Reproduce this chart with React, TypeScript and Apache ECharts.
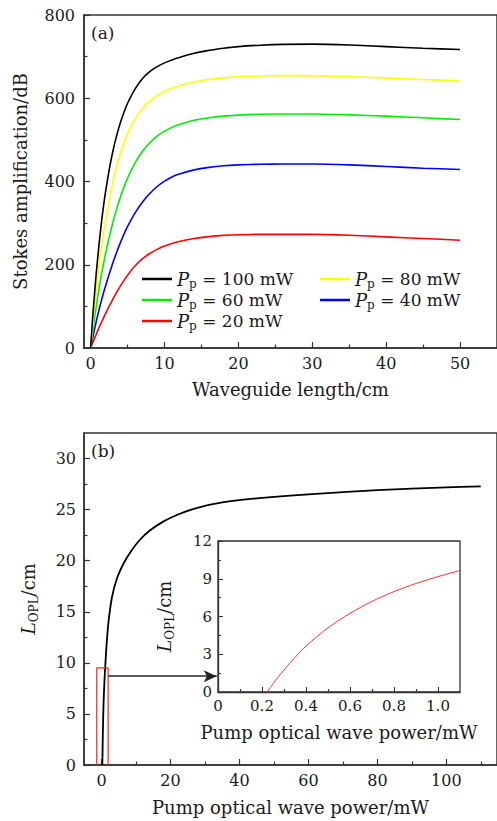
import React, { useEffect, useRef } from "react";
import * as echarts from "echarts";

// ---- Panel (a): Stokes amplification vs waveguide length ----
const lengthCm = [0, 0.25, 0.5, 0.75, 1, 1.25, 1.5, 1.75, 2, 2.5, 3, 3.5, 4, 4.5, 5, 6, 7, 8, 9, 10, 11, 12, 14, 16, 18, 20, 23, 26, 30, 35, 40, 45, 50];
const gain100 = [0, 68, 125, 178, 225, 268, 307, 342, 373, 427, 472, 509, 540, 566, 588, 622, 647, 664, 676, 685, 692, 698, 708, 715, 720, 724, 727.5, 729.5, 730, 728, 724, 720, 717];
const gain80 = [0, 50, 96, 138, 177, 213, 246, 276, 304, 353, 396, 433, 465, 492, 515, 550, 575, 593, 606, 616, 624, 630, 639, 645, 649, 651.5, 653.5, 654.5, 654, 652, 649, 645, 642];
const gain60 = [0, 35, 68, 99, 128, 155, 180, 203, 225, 265, 301, 333, 361, 386, 408, 444, 472, 493, 509, 521, 530, 537, 547, 553, 557, 559.5, 561.5, 562, 562, 560, 557, 553, 549];
const gain40 = [0, 22, 43, 63, 82, 100, 117, 133, 148, 177, 204, 229, 252, 273, 292, 324, 350, 371, 388, 401, 411, 418, 428, 434, 438, 440, 441.5, 442, 442, 440, 436, 432, 429];
const gain20 = [0, 11, 22, 32.5, 43, 53, 63, 72.5, 82, 100, 117, 133, 148, 162, 175, 197, 214, 227, 237, 245, 251, 256, 263, 267.5, 270.5, 272, 273, 273, 273, 271, 267, 263, 259];
const pumpLabels = ["100", "80", "60", "40", "20"];
const aXTicks = [0, 10, 20, 30, 40, 50];
const aXMinor = [5, 15, 25, 35, 45];

// ---- Panel (b): L_OPL vs pump power ----
const pumpMain = [0.225, 0.3, 0.4, 0.5, 0.6, 0.8, 1.1, 1.5, 2, 3, 4.5, 6.5, 8.5, 11, 14, 18, 22, 27.5, 35, 45, 60, 80, 100, 110];
const loplMain = [0, 1.75, 3.65, 5.1, 6.25, 7.98, 9.9, 12.0, 14.0, 16.4, 18.3, 19.8, 20.9, 22.0, 22.95, 23.85, 24.5, 25.15, 25.7, 26.1, 26.5, 26.9, 27.18, 27.28];
const bXTicks = [0, 20, 40, 60, 80, 100];
const bXMinor = [10, 30, 50, 70, 90, 110];
const bYTicks = [0, 5, 10, 15, 20, 25, 30];
const bYMinor = [2.5, 7.5, 12.5, 17.5, 22.5, 27.5];
const zoomBoxX = [-1.4, 1.9];
const zoomBoxTop = 9.5;
const arrowFrom = [1.9, 8.7];
const arrowTo = [33.4, 8.7];

// ---- Inset ----
const insetPump = [0.225, 0.25, 0.3, 0.35, 0.4, 0.5, 0.6, 0.7, 0.8, 0.9, 1.0, 1.1];
const insetL = [0, 0.65, 1.75, 2.75, 3.65, 5.1, 6.25, 7.2, 7.98, 8.62, 9.17, 9.66];
const insetXTicks = [0, 0.2, 0.4, 0.6, 0.8, 1.0];
const insetXMinor = [0.1, 0.3, 0.5, 0.7, 0.9];

const FONT = "DejaVu Serif";
const TXT = "#1a1a1a";
const AX = "#333333";

const zip = (xs: number[], ys: number[]) => xs.map((x, i) => [x, ys[i]]);

export default function App() {
  const ref = useRef<HTMLDivElement>(null);
  useEffect(() => {
    if (!ref.current) return;
    const chart = echarts.init(ref.current, null, { renderer: "svg" });

    const tickLabel = (size: number, margin: number) => ({
      fontFamily: FONT,
      fontSize: size,
      color: TXT,
      margin,
    });
    const nameStyle = { fontFamily: FONT, fontSize: 18, color: TXT };
    const axisLine = { show: true, onZero: false, lineStyle: { color: AX, width: 1.5 } };
    const hiddenLine = { show: false, onZero: false };

    const majorX = (gridIndex: number, min: number, max: number, ticks: number[], extra: any = {}) => ({
      type: "value",
      gridIndex,
      position: "bottom",
      min,
      max,
      axisLine,
      splitLine: { show: false },
      axisTick: { inside: true, length: 6, customValues: ticks, lineStyle: { color: AX, width: 1.2 } },
      axisLabel: { ...tickLabel(16, 7), customValues: ticks },
      ...extra,
    });
    const minorX = (gridIndex: number, min: number, max: number, ticks: number[], len = 3.5) => ({
      type: "value",
      gridIndex,
      position: "bottom",
      min,
      max,
      axisLine: hiddenLine,
      splitLine: { show: false },
      axisTick: { inside: true, length: len, customValues: ticks, lineStyle: { color: AX, width: 1.2 } },
      axisLabel: { show: false },
    });

    const lineSeries = (name: string, data: number[], color: string) => ({
      type: "line",
      name,
      xAxisIndex: 0,
      yAxisIndex: 0,
      data: zip(lengthCm, data),
      showSymbol: false,
      symbol: "none",
      smooth: 0.25,
      lineStyle: { color, width: 1.6 },
      itemStyle: { color },
      z: 3,
    });

    const legendFmt = (name: string) => `{i|P}{s|p}{n| = ${name} mW}`;
    const legendRich = {
      i: { fontFamily: FONT, fontStyle: "italic", fontSize: 18, lineHeight: 22, color: TXT },
      s: { fontFamily: FONT, fontSize: 12, lineHeight: 12, verticalAlign: "bottom", color: TXT },
      n: { fontFamily: FONT, fontSize: 17, lineHeight: 22, color: TXT },
    };
    const legendBase = {
      orient: "vertical",
      top: 270,
      padding: 0,
      itemGap: 1,
      itemWidth: 30,
      itemHeight: 2.5,
      icon: "rect",
      formatter: legendFmt,
      textStyle: { rich: legendRich, fontFamily: FONT, fontSize: 17 },
      selectedMode: false,
    };

    const lRich = {
      i: { fontFamily: FONT, fontStyle: "italic", fontSize: 19, lineHeight: 24, color: TXT },
      s: { fontFamily: FONT, fontSize: 12, lineHeight: 12, verticalAlign: "bottom", color: TXT },
      n: { fontFamily: FONT, fontSize: 18, lineHeight: 24, color: TXT },
    };

    const option: any = {
      animation: false,
      backgroundColor: "#ffffff",
      grid: [
        { left: 84, top: 15, width: 415, height: 333, show: true, borderColor: AX, borderWidth: 1.5 },
        { left: 84, top: 433, width: 416, height: 332, show: true, borderColor: AX, borderWidth: 1.5 },
        { left: 218, top: 541, width: 242, height: 151, show: true, borderColor: AX, borderWidth: 1.3, backgroundColor: "#ffffff", z: 5 },
      ],
      legend: [
        { ...legendBase, left: 142, data: [pumpLabels[0], pumpLabels[2], pumpLabels[4]] },
        { ...legendBase, left: 320, data: [pumpLabels[1], pumpLabels[3]] },
      ],
      xAxis: [
        majorX(0, -0.9, 55, aXTicks, {
          name: "Waveguide length/cm",
          nameLocation: "middle",
          nameGap: 32,
          nameTextStyle: nameStyle,
        }),
        minorX(0, -0.9, 55, aXMinor),
        majorX(1, -5.1, 114.7, bXTicks, {
          name: "Pump optical wave power/mW",
          nameLocation: "middle",
          nameGap: 33,
          nameTextStyle: nameStyle,
        }),
        minorX(1, -5.1, 114.7, bXMinor),
        {
          type: "value",
          gridIndex: 2,
          position: "bottom",
          min: 0,
          max: 1.1,
          axisLine: { ...axisLine, lineStyle: { color: AX, width: 1.3 } },
          splitLine: { show: false },
          axisTick: { inside: true, length: 5, customValues: insetXTicks, lineStyle: { color: AX, width: 1.1 } },
          axisLabel: {
            ...tickLabel(15, 6),
            customValues: insetXTicks,
            formatter: (v: number) => (v === 0 ? "0" : v.toFixed(1)),
          },
          name: "Pump optical wave power/mW",
          nameLocation: "middle",
          nameGap: 31,
          nameTextStyle: nameStyle,
          z: 6,
        },
        { ...minorX(2, 0, 1.1, insetXMinor, 3), z: 6 },
      ],
      yAxis: [
        {
          type: "value",
          gridIndex: 0,
          position: "left",
          min: 0,
          max: 800,
          interval: 200,
          axisLine,
          splitLine: { show: false },
          axisTick: { inside: true, length: 6, lineStyle: { color: AX, width: 1.2 } },
          minorTick: { show: true, splitNumber: 2, length: 3.5, lineStyle: { color: AX, width: 1.2 } },
          axisLabel: tickLabel(16, 9),
          name: "Stokes amplification/dB",
          nameLocation: "middle",
          nameGap: 55,
          nameTextStyle: nameStyle,
        },
        {
          type: "value",
          gridIndex: 1,
          position: "left",
          min: 0,
          max: 32.5,
          axisLine,
          splitLine: { show: false },
          axisTick: { inside: true, length: 6, customValues: bYTicks, lineStyle: { color: AX, width: 1.2 } },
          axisLabel: { ...tickLabel(16, 8), customValues: bYTicks },
          name: "{i|L}{s|OPL}{n|/cm}",
          nameLocation: "middle",
          nameGap: 44,
          nameTextStyle: { ...nameStyle, rich: lRich },
        },
        {
          type: "value",
          gridIndex: 1,
          position: "left",
          min: 0,
          max: 32.5,
          axisLine: hiddenLine,
          splitLine: { show: false },
          axisTick: { inside: true, length: 3.5, customValues: bYMinor, lineStyle: { color: AX, width: 1.2 } },
          axisLabel: { show: false },
        },
        {
          type: "value",
          gridIndex: 2,
          position: "left",
          min: 0,
          max: 12,
          interval: 3,
          axisLine: { ...axisLine, lineStyle: { color: AX, width: 1.3 } },
          splitLine: { show: false },
          axisTick: { inside: true, length: 5, lineStyle: { color: AX, width: 1.1 } },
          minorTick: { show: true, splitNumber: 2, length: 3, lineStyle: { color: AX, width: 1.1 } },
          axisLabel: tickLabel(15, 6),
          name: "{i|L}{s|OPL}{n|/cm}",
          nameLocation: "middle",
          nameGap: 42,
          nameTextStyle: { ...nameStyle, rich: lRich },
          z: 6,
        },
      ],
      series: [
        lineSeries(pumpLabels[4], gain20, "#ff0000"),
        lineSeries(pumpLabels[3], gain40, "#0000ff"),
        lineSeries(pumpLabels[2], gain60, "#00ee00"),
        lineSeries(pumpLabels[1], gain80, "#ffff00"),
        lineSeries(pumpLabels[0], gain100, "#000000"),
        {
          type: "line",
          name: "main",
          xAxisIndex: 2,
          yAxisIndex: 1,
          data: zip(pumpMain, loplMain),
          symbol: "none",
          smooth: 0.3,
          lineStyle: { color: "#000000", width: 1.8 },
          z: 3,
        },
        {
          type: "line",
          name: "box",
          xAxisIndex: 2,
          yAxisIndex: 1,
          data: [
            [zoomBoxX[0], 0],
            [zoomBoxX[0], zoomBoxTop],
            [zoomBoxX[1], zoomBoxTop],
            [zoomBoxX[1], 0],
          ],
          symbol: "none",
          lineStyle: { color: "#ff2020", width: 1.2 },
          z: 4,
          markLine: {
            silent: true,
            symbol: ["none", "arrow"],
            symbolSize: [9, 13],
            label: { show: false },
            lineStyle: { color: "#222222", width: 1.5, type: "solid" },
            data: [[{ coord: arrowFrom }, { coord: arrowTo }]],
          },
        },
        {
          type: "line",
          name: "inset",
          xAxisIndex: 4,
          yAxisIndex: 3,
          data: zip(insetPump, insetL),
          symbol: "none",
          smooth: 0.3,
          lineStyle: { color: "#ff3030", width: 1 },
          z: 7,
        },
      ],
      graphic: [
        { type: "text", left: 91, top: 24, style: { text: "(a)", fontFamily: FONT, fontSize: 17, fill: TXT } },
        { type: "text", left: 91, top: 442, style: { text: "(b)", fontFamily: FONT, fontSize: 17, fill: TXT } },
      ],
    };

    chart.setOption(option);
    return () => chart.dispose();
  }, []);

  return (
    <div
      ref={ref}
      style={{ position: "absolute", left: 0, top: 0, width: 497, height: 821, background: "#fff" }}
    />
  );
}
